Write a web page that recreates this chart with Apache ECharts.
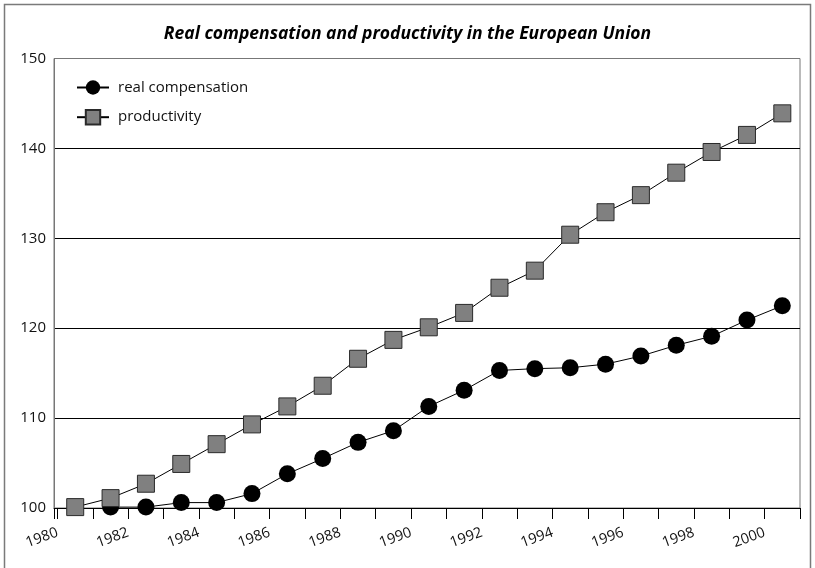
<!DOCTYPE html>
<html>
<head>
<meta charset="utf-8">
<script src="https://cdn.jsdelivr.net/npm/echarts@6/dist/echarts.min.js"></script>
<style>html,body{margin:0;padding:0;background:#fff}#c{width:815px;height:568px}</style>
</head>
<body>
<div id="c"></div>
<script>
var titleText = 'Real compensation and productivity in the European Union';
var years = [1980,1981,1982,1983,1984,1985,1986,1987,1988,1989,1990,1991,1992,1993,1994,1995,1996,1997,1998,1999,2000];
var realCompensation = [null,100.1,100.1,100.6,100.6,101.6,103.8,105.5,107.3,108.6,111.3,113.1,115.3,115.5,115.6,116.0,116.9,118.1,119.1,120.9,122.5];
var productivity = [100.1,101.1,102.7,104.9,107.1,109.3,111.3,113.6,116.6,118.7,120.1,121.7,124.5,126.4,130.4,132.9,134.8,137.3,139.6,141.5,143.9];
var xTickLabels = [1980,1982,1984,1986,1988,1990,1992,1994,1996,1998,2000];
var yTicks = [100,110,120,130,140,150];

var FONT = '"Open Sans", "DejaVu Sans", sans-serif';
function pts(vals){ return years.map(function(y,i){ return [y + 0.5, vals[i]]; }); }
var tickVals = [1979.9].concat(years.concat([2001]));

var chart = echarts.init(document.getElementById('c'), null, {renderer:'canvas'});
chart.setOption({
  animation:false,
  backgroundColor:'#fff',
  graphic:[{type:'rect', shape:{x:4.5,y:4.5,width:806,height:580}, style:{fill:'none',stroke:'#7a7a7a',lineWidth:1.5}, silent:true}],
  title:{text:titleText, left:'center', top:25, padding:0,
    textStyle:{fontFamily:FONT, fontSize:17.5, fontWeight:'bold', fontStyle:'italic', color:'#000'}},
  legend:{orient:'vertical', left:76, top:80, padding:0, itemWidth:32, itemHeight:18, itemGap:14,
    textStyle:{fontFamily:FONT, fontSize:15, color:'#111', padding:[0,0,0,4]},
    data:['real compensation','productivity']},
  grid:{left:54, right:15, top:58.5, bottom:60, show:true, borderColor:'#777', borderWidth:1},
  xAxis:{type:'value', min:1979.9, max:2001,
    axisLine:{show:true, lineStyle:{color:'#000', width:1}},
    axisTick:{show:true, length:11, customValues:tickVals, lineStyle:{color:'#000'}},
    axisLabel:{rotate:20, margin:24, customValues:xTickLabels, fontFamily:FONT, fontSize:14.5, color:'#111',
      formatter:function(v){return String(Math.round(v));}},
    splitLine:{show:false}},
  yAxis:{type:'value', min:100, max:150, interval:10,
    axisLine:{show:true, lineStyle:{color:'#777', width:1}},
    axisTick:{show:false},
    axisLabel:{margin:8, fontFamily:FONT, fontSize:15, color:'#111'},
    splitLine:{show:true, lineStyle:{color:['#000','#000','#000','#000','#000','#777'], width:1}}},
  series:[
    {name:'real compensation', type:'line', data:pts(realCompensation), symbol:'circle', symbolSize:17,
      connectNulls:false, clip:false,
      lineStyle:{color:'#000', width:1}, itemStyle:{color:'#000', borderColor:'#000', borderWidth:0}, z:2},
    {name:'productivity', type:'line', data:pts(productivity), symbol:'rect', symbolSize:17, clip:false,
      lineStyle:{color:'#000', width:1}, itemStyle:{color:'#808080', borderColor:'#2a2a2a', borderWidth:1}, z:3}
  ]
});
</script>
</body>
</html>
